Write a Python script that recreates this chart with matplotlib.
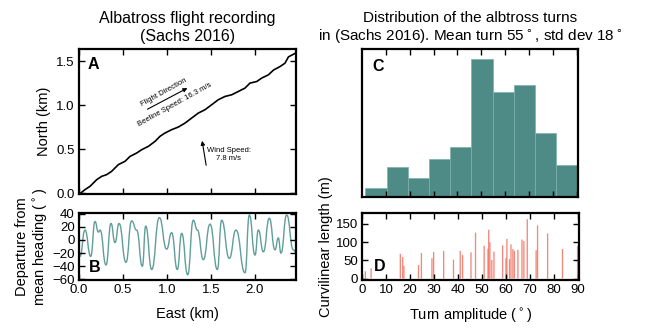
import matplotlib
matplotlib.use("Agg")
import matplotlib.pyplot as plt
from matplotlib.path import Path
from matplotlib.patches import PathPatch
import numpy as np

plt.rcParams['font.family'] = ['Liberation Sans', 'DejaVu Sans']
plt.rcParams['mathtext.fontset'] = 'dejavusans'

# Panel A: flight track (km)
track_east = [0.0, 0.011, 0.068, 0.125, 0.201, 0.258, 0.314, 0.371, 0.447, 0.523, 0.58,
              0.655, 0.712, 0.788, 0.864, 0.92, 0.977, 1.053, 1.129, 1.205, 1.28,
              1.356, 1.432, 1.508, 1.583, 1.659, 1.735, 1.811, 1.886, 1.943, 2.02,
              2.076, 2.152, 2.21, 2.284, 2.34, 2.38, 2.436, 2.455]
track_north = [-0.006, -0.006, 0.04, 0.077, 0.153, 0.191, 0.21, 0.248, 0.324, 0.362, 0.418,
               0.456, 0.494, 0.532, 0.589, 0.646, 0.684, 0.722, 0.752, 0.797, 0.854,
               0.911, 0.949, 1.006, 1.063, 1.1, 1.119, 1.157, 1.195, 1.252, 1.27,
               1.309, 1.346, 1.40, 1.44, 1.478, 1.55, 1.58, 1.59]

# Panel B: departure from mean heading (deg) at the turning points, vs east (km)
heading_east = [0.0, 0.011, 0.068, 0.133, 0.182, 0.220, 0.239, 0.307, 0.364, 0.409, 0.455,
                0.534, 0.598, 0.655, 0.720, 0.758, 0.826, 0.913, 0.996, 1.053, 1.117,
                1.167, 1.235, 1.299, 1.345, 1.413, 1.489, 1.572, 1.621, 1.708, 1.784,
                1.886, 1.936, 2.0, 2.038, 2.095, 2.163, 2.227, 2.265, 2.295, 2.360, 2.436, 2.47]
heading_dev = [-20, -25, 15, -25, 28, 12, 15, -38, 25, -4, 25,
               -34, 29, 15, -40, 21, -45, 34, -14, 11, -45,
               10, -53, 30, 15, -30, 24, -45, 30, -28, 15,
               -50, 38, -23, 15, -18, 33, -15, 3, -20, 38, -15, -20]

# Panel C: length-weighted histogram of turns
turn_bin_edges = [1.4, 10.3, 19.2, 28.1, 37.0, 45.9, 54.8, 63.7, 72.6, 81.5, 90.4]
turn_bin_weight = [49, 162, 104, 203, 266, 743, 562, 599, 344, 171]

# Panel D: individual turns
turn_deg = [1.4, 3.8, 16.0, 17.0, 17.5, 23.6, 24.8, 29.2, 29.9, 34.1, 38.2, 41.0, 42.0,
            45.5, 47.4, 51.0, 52.6, 52.9, 53.4, 54.2, 55.1, 58.7, 60.1, 60.5, 61.6,
            62.2, 63.0, 63.6, 65.1, 66.8, 67.6, 69.0, 72.7, 73.3, 77.5, 83.7, 90.0]
turn_length = [20, 28, 68, 59, 35, 37, 70, 56, 73, 76, 52, 76, 65,
               72, 126, 90, 82, 134, 100, 51, 74, 91, 56, 109, 53,
               94, 81, 76, 79, 107, 103, 163, 78, 146, 124, 81, 90]

W, H = 658, 329
fig = plt.figure(figsize=(W / 100, H / 100), dpi=100)


def box(l, r, t, b):
    return [l / W, 1 - b / H, (r - l) / W, (b - t) / H]


def style(ax):
    for s in ax.spines.values():
        s.set_linewidth(1.6)
    ax.tick_params(direction='in', top=True, right=True, length=4, width=1,
                   labelsize=9.5, pad=3)


def smooth_path(xs, ys):
    # curve through the turning points, flat at each extreme
    verts = [(xs[0], ys[0])]
    codes = [Path.MOVETO]
    for i in range(1, len(xs)):
        dx = (xs[i] - xs[i - 1]) / 2
        verts += [(xs[i - 1] + dx, ys[i - 1]), (xs[i] - dx, ys[i]), (xs[i], ys[i])]
        codes += [Path.CURVE4] * 3
    return Path(verts, codes)


axA = fig.add_axes(box(79, 296, 49, 194))
axB = fig.add_axes(box(79, 296, 213, 280))
axC = fig.add_axes(box(362, 578, 49, 197))
axD = fig.add_axes(box(362, 579, 213, 280))

# A
axA.plot(track_east, track_north, color='k', lw=1.2)
axA.set_xlim(0, 2.466)
axA.set_ylim(-0.01, 1.64)
axA.set_xticks([0, 0.5, 1.0, 1.5, 2.0])
axA.set_xticklabels([])
axA.set_yticks([0.0, 0.5, 1.0, 1.5])
style(axA)
axA.set_ylabel('North (km)', fontsize=10.5)
axA.set_title('Albatross flight recording\n(Sachs 2016)', fontsize=11.5, pad=6)
axA.text(0.065, 0.89, 'A', transform=axA.transAxes, fontsize=11.5, fontweight='bold',
         va='center', ha='center')
axA.annotate('', xy=(1.26, 1.21), xytext=(0.75, 0.94),
             arrowprops=dict(arrowstyle='-|>', color='k', lw=0.8, mutation_scale=6))
axA.text(0.96, 1.15, 'Flight Direction', rotation=29, fontsize=5.5,
         ha='center', va='center', rotation_mode='anchor')
axA.text(1.09, 1.005, 'Beeline Speed: 16.3 m/s', rotation=29, fontsize=5.5,
         ha='center', va='center', rotation_mode='anchor')
axA.annotate('', xy=(1.394, 0.627), xytext=(1.45, 0.286),
             arrowprops=dict(arrowstyle='-|>', color='k', lw=0.8, mutation_scale=6))
axA.text(1.70, 0.44, 'Wind Speed:\n7.8 m/s', fontsize=5.5, ha='center', va='center')

# B
axB.add_patch(PathPatch(smooth_path(heading_east, heading_dev), facecolor='none',
                        edgecolor='#5f9e9a', lw=1.0))
axB.set_xlim(0, 2.466)
axB.set_ylim(-61, 41)
axB.set_xticks([0, 0.5, 1.0, 1.5, 2.0])
axB.set_yticks([40, 20, 0, -20, -40, -60])
style(axB)
axB.set_ylabel('Departure from\nmean heading ($^\\circ$)', fontsize=10.5, labelpad=2)
axB.set_xlabel('East (km)', fontsize=10.5, labelpad=8)
axB.text(0.074, 0.18, 'B', transform=axB.transAxes, fontsize=11.5, fontweight='bold',
         va='center', ha='center')

# C
edges = np.array(turn_bin_edges)
axC.bar(edges[:-1], turn_bin_weight, width=np.diff(edges), align='edge',
        color='#4e8a86', edgecolor='#7fb0ac', linewidth=0.5)
axC.set_xlim(0, 90.6)
axC.set_ylim(0, 795)
axC.set_xticks(range(10, 100, 10))
axC.set_yticks([])
style(axC)
axC.tick_params(labelbottom=False, left=False, right=False)
axC.set_title('Distribution of the albtross turns\nin (Sachs 2016). Mean turn 55$^\\circ$, std dev 18$^\\circ$',
              fontsize=11, pad=6)
axC.text(0.074, 0.88, 'C', transform=axC.transAxes, fontsize=11.5, fontweight='bold',
         va='center', ha='center')

# D
axD.bar(turn_deg, turn_length, width=0.55, color='#f27262', alpha=0.85,
        linewidth=0, snap=False)
axD.set_xlim(0, 90.6)
axD.set_ylim(-4, 180)
axD.set_xticks(range(0, 100, 10))
axD.set_yticks([0, 50, 100, 150])
style(axD)
axD.set_ylabel('Curvilinear length (m)', fontsize=10.5, labelpad=2)
axD.set_xlabel('Turn amplitude ($^\\circ$)', fontsize=10.5, labelpad=8)
axD.text(0.08, 0.2, 'D', transform=axD.transAxes, fontsize=11.5, fontweight='bold',
         va='center', ha='center')

fig.savefig('out.png', dpi=100)
